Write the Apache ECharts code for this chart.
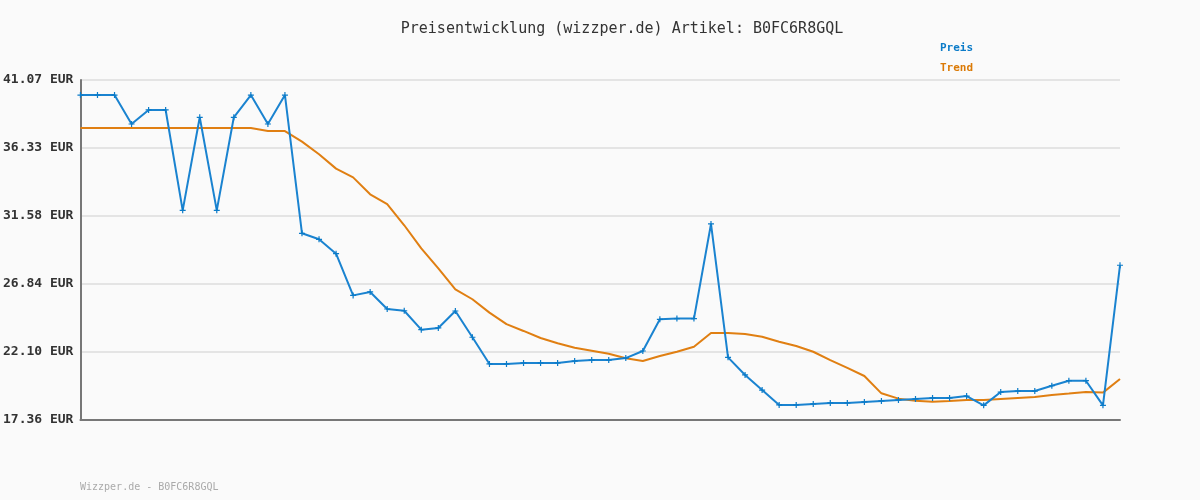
<!DOCTYPE html>
<html>
<head>
<meta charset="utf-8">
<script src="https://cdn.jsdelivr.net/npm/echarts@6/dist/echarts.min.js"></script>
<style>
html,body{margin:0;padding:0;background:#fafafa;}
#chart{width:1200px;height:500px;}
</style>
</head>
<body>
<div id="chart"></div>
<script>
const titleText = 'Preisentwicklung (wizzper.de) Artikel: B0FC6R8GQL';
const footerText = 'Wizzper.de - B0FC6R8GQL';
const seriesNames = ['Preis', 'Trend'];

const preis = [
  40.02, 40.02, 40.02, 38.00, 38.98, 38.98, 31.98, 38.47, 31.98, 38.47,
  40.02, 38.00, 40.02, 30.38, 29.96, 28.96, 26.05, 26.29, 25.10, 24.98,
  23.66, 23.78, 24.96, 23.13, 21.27, 21.27, 21.34, 21.34, 21.34, 21.47,
  21.54, 21.54, 21.68, 22.17, 24.38, 24.43, 24.43, 31.03, 21.73, 20.50,
  19.45, 18.41, 18.41, 18.48, 18.55, 18.55, 18.62, 18.69, 18.76, 18.83,
  18.90, 18.90, 19.03, 18.38, 19.31, 19.38, 19.38, 19.75, 20.10, 20.10,
  18.38, 28.15
];

const trend = [
  37.72, 37.72, 37.72, 37.72, 37.72, 37.72, 37.72, 37.72, 37.72, 37.72,
  37.72, 37.51, 37.51, 36.77, 35.89, 34.89, 34.28, 33.10, 32.42, 30.94,
  29.33, 27.94, 26.47, 25.78, 24.85, 24.05, 23.57, 23.08, 22.71, 22.40,
  22.19, 21.98, 21.66, 21.47, 21.82, 22.12, 22.47, 23.43, 23.43, 23.36,
  23.17, 22.82, 22.52, 22.12, 21.54, 20.99, 20.43, 19.22, 18.85, 18.71,
  18.64, 18.69, 18.76, 18.76, 18.83, 18.90, 18.97, 19.11, 19.20, 19.31,
  19.27, 20.22
];

const yTickLabels = ['17.36', '22.10', '26.84', '31.58', '36.33', '41.07'];
const yMin = 17.36;
const yMax = 41.07;

const categories = preis.map((_, i) => String(i + 1));
const yInterval = (yMax - yMin) / (yTickLabels.length - 1);

const chart = echarts.init(document.getElementById('chart'), null, {renderer: 'canvas'});
const plus = 'path://M2,0 L3,0 L3,2 L5,2 L5,3 L3,3 L3,5 L2,5 L2,3 L0,3 L0,2 L2,2 Z';

chart.setOption({
  backgroundColor: '#fafafa',
  animation: false,
  title: [
    {
      text: titleText,
      left: 622, top: 22, padding: 0,
      textAlign: 'center',
      textStyle: {fontFamily: 'DejaVu Sans Mono', fontSize: 15, fontWeight: 'normal', color: '#333'}
    },
    {
      text: footerText,
      left: 80, top: 482, padding: 0,
      textStyle: {fontFamily: 'DejaVu Sans Mono', fontSize: 10, fontWeight: 'normal', color: '#aaa'}
    }
  ],
  legend: {
    orient: 'vertical',
    left: 935, top: 38,
    itemGap: 9,
    icon: 'none',
    itemWidth: 0, itemHeight: 0,
    selectedMode: false,
    data: [
      {name: seriesNames[0], textStyle: {color: '#0b7bc8'}},
      {name: seriesNames[1], textStyle: {color: '#db7a06'}}
    ],
    textStyle: {fontFamily: 'DejaVu Sans Mono', fontSize: 11, fontWeight: 'bold', padding: [0,0,0,-5]}
  },
  grid: {left: 80, right: 80, top: 80, bottom: 80, containLabel: false},
  xAxis: {
    type: 'category',
    data: categories,
    boundaryGap: false,
    axisLine: {show: true, lineStyle: {color: '#777', width: 2}},
    axisTick: {show: false},
    axisLabel: {show: false},
    splitLine: {show: false}
  },
  yAxis: {
    type: 'value',
    min: yMin, max: yMax, interval: yInterval,
    axisLine: {show: true, lineStyle: {color: '#777', width: 2}},
    axisTick: {show: false},
    axisLabel: {
      margin: 7,
      fontFamily: 'DejaVu Sans Mono', fontSize: 13, fontWeight: 'bold', color: '#333',
      formatter: v => yTickLabels[Math.round((v - yMin) / yInterval)] + ' EUR'
    },
    splitLine: {show: true, lineStyle: {color: '#e4e4e4', width: 2}}
  },
  series: [
    {
      name: seriesNames[1], type: 'line', data: trend,
      symbol: 'none', z: 2,
      lineStyle: {color: '#e07f12', width: 2},
      itemStyle: {color: '#e07f12'}
    },
    {
      name: seriesNames[0], type: 'line', data: preis,
      symbol: plus, symbolSize: 6, showAllSymbol: true, z: 3,
      lineStyle: {color: '#1a83d0', width: 2},
      itemStyle: {color: '#0b7bc8'}
    }
  ]
});
</script>
</body>
</html>
